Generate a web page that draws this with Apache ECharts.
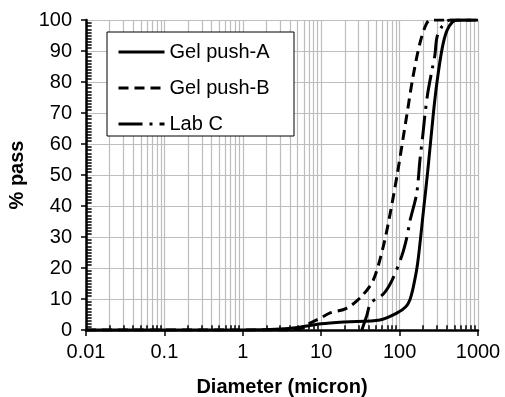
<!DOCTYPE html>
<html>
<head>
<meta charset="utf-8">
<style>
  html, body { margin: 0; padding: 0; background: #fff; }
  #chart { width: 505px; height: 397px; }
</style>
<script src="https://cdn.jsdelivr.net/npm/echarts@6/dist/echarts.min.js"></script>
</head>
<body>
<div id="chart"></div>
<script>
// diameters (micron) and % passing
var aDiam = [0.01, 0.1, 1, 3, 5, 10, 20, 56, 93, 120, 135, 150, 170, 200, 230, 270, 300, 350, 400, 470, 550, 1000]
var aPass = [0, 0, 0, 0.3, 0.8, 2, 2.6, 3.2, 5.5, 7.5, 9.7, 14, 21.6, 37.7, 52, 70, 80, 91, 96.5, 99.3, 100, 100]

var bDiam = [0.01, 1, 4, 5.5, 7.2, 10, 13, 21, 32, 46, 62, 76, 93, 123, 148, 182, 222, 257, 1000]
var bPass = [0, 0, 0, 0.5, 2.2, 4, 5.5, 7, 10.6, 16, 27, 37.7, 50, 69, 81.6, 92.6, 99, 100, 100]

var cDiam = [33, 38, 43, 62, 80, 107, 124, 135, 165, 182, 199, 209, 229, 262, 282, 300, 350, 440, 1000]
var cPass = [0, 4.5, 8.7, 11.6, 16, 24, 30, 35, 44, 55, 63.5, 68.7, 76.5, 84.5, 88.7, 94.5, 98, 100, 100]

var seriesNames = ['Gel push-A', 'Gel push-B', 'Lab C']
var xTickLabels = ['0.01', '0.1', '1', '10', '100', '1000']
var decades = [0.01, 0.1, 1, 10, 100]
var minorMults = [2, 3, 4, 5, 6, 7, 8, 9]

var FONT = 'Liberation Sans, Arial, sans-serif'
var GRID_GRAY = '#bdbdbd'

function pairs(xs, ys) {
  var out = []
  for (var i = 0; i < xs.length; i++) out.push([xs[i], ys[i]])
  return out
}

// minor log grid lines + little inside ticks on both axes
var tickStyle = { color: '#000', width: 1.5, type: 'solid' }
var minorMarks = []
for (var d = 0; d < decades.length; d++) {
  for (var m = 0; m < minorMults.length; m++) {
    var v = +(decades[d] * minorMults[m]).toPrecision(3)
    minorMarks.push({ xAxis: v, lineStyle: { color: GRID_GRAY, width: 1.2, type: 'solid' } })
    minorMarks.push([{ coord: [v, 0], lineStyle: tickStyle }, { coord: [v, 1.5] }])
  }
}
for (var p = 1; p < 100; p++) {
  if (p % 10 === 0) continue
  minorMarks.push([{ coord: [0.01, p], lineStyle: tickStyle }, { coord: [0.0118, p] }])
}

var chart = echarts.init(document.getElementById('chart'))

chart.setOption({
  animation: false,
  textStyle: { fontFamily: FONT, color: '#000' },
  grid: { left: 86, right: 27, top: 20, bottom: 67, outerBoundsMode: 'none' },
  graphic: [{
    type: 'rect',
    z: 3,
    shape: { x: 107, y: 32, width: 187, height: 104 },
    style: { fill: '#fff', stroke: '#000', lineWidth: 1 }
  }],
  legend: {
    data: seriesNames,
    orient: 'vertical',
    left: 107,
    top: 32,
    z: 5,
    padding: [10, 10, 4, 10],
    itemWidth: 46,
    itemHeight: 14,
    itemGap: 16,
    itemStyle: { opacity: 0 },
    lineStyle: { width: 3 },
    textStyle: { fontFamily: FONT, fontSize: 20, color: '#000' }
  },
  xAxis: {
    type: 'log',
    logBase: 10,
    min: 0.01,
    max: 1000,
    name: 'Diameter (micron)',
    nameLocation: 'middle',
    nameGap: 47,
    nameTextStyle: { fontFamily: FONT, fontSize: 20, fontWeight: 'bold', color: '#000' },
    axisLine: { lineStyle: { color: '#000', width: 2.5 } },
    axisTick: { show: true, length: 6, lineStyle: { color: '#000', width: 1.5 } },
    axisLabel: {
      fontSize: 20, color: '#000', margin: 12,
      formatter: function (val) {
        var i = Math.round(Math.log10(val)) + 2
        return xTickLabels[i]
      }
    },
    splitLine: { show: true, lineStyle: { color: GRID_GRAY, width: 1.2 } }
  },
  yAxis: {
    type: 'value',
    min: 0,
    max: 100,
    interval: 10,
    name: '% pass',
    nameLocation: 'middle',
    nameGap: 52,
    nameTextStyle: { fontFamily: FONT, fontSize: 20, fontWeight: 'bold', color: '#000' },
    axisLine: { show: true, lineStyle: { color: '#000', width: 2.5 } },
    axisTick: { show: true, length: 5, lineStyle: { color: '#000', width: 1.5 } },
    axisLabel: { fontSize: 20, color: '#000', margin: 14 },
    splitLine: { show: true, lineStyle: { color: GRID_GRAY, width: 1.2 } }
  },
  series: [{
    name: seriesNames[0],
    type: 'line',
    data: pairs(aDiam, aPass),
    symbol: 'none',
    smooth: 0.3,
    z: 3,
    lineStyle: { color: '#000', width: 3, type: 'solid' },
    itemStyle: { color: '#000' },
    markLine: {
      silent: true,
      symbol: 'none',
      z: 1,
      animation: false,
      label: { show: false },
      emphasis: { disabled: true },
      data: minorMarks
    }
  }, {
    name: seriesNames[1],
    type: 'line',
    data: pairs(bDiam, bPass),
    symbol: 'none',
    smooth: 0.3,
    z: 3,
    lineStyle: { color: '#000', width: 3, type: [10, 6] },
    itemStyle: { color: '#000' }
  }, {
    name: seriesNames[2],
    type: 'line',
    data: pairs(cDiam, cPass),
    symbol: 'none',
    smooth: 0.3,
    z: 3,
    lineStyle: { color: '#000', width: 3, type: [24, 7, 3, 7] },
    itemStyle: { color: '#000' }
  }]
})
</script>
</body>
</html>
